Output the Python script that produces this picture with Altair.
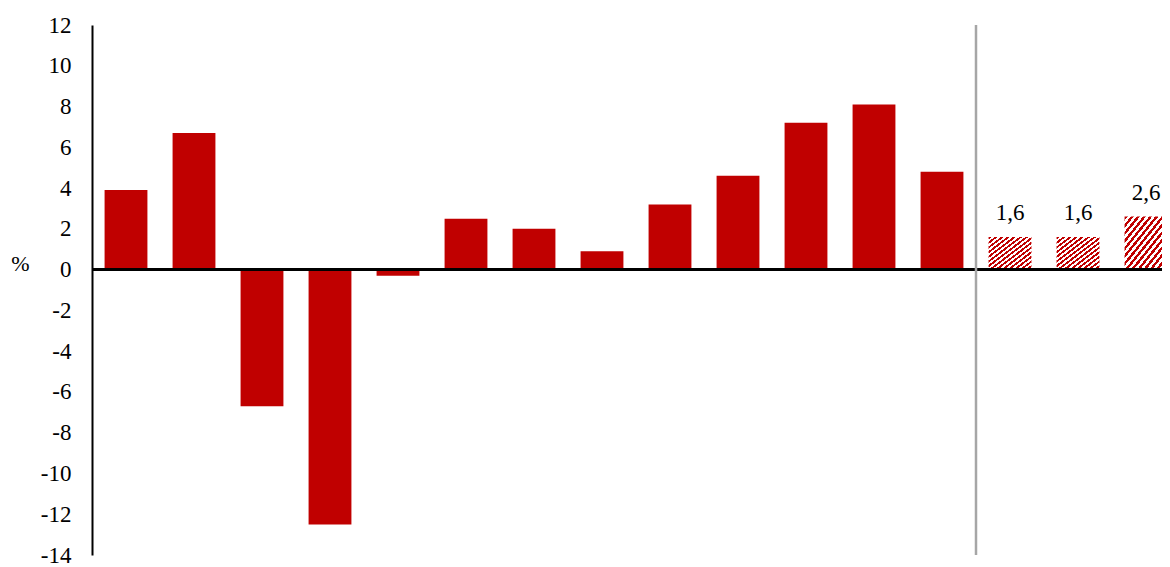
import altair as alt
import pandas as pd

# ---- data ----
periods = [f"P{i}" for i in range(1, 17)]
values = [3.9, 6.7, -6.7, -12.5, -0.3, 2.5, 2.0, 0.9, 3.2, 4.6, 7.2, 8.1, 4.8, 1.6, 1.6, 2.6]
is_forecast = [False] * 13 + [True] * 3
value_labels = [""] * 13 + ["1,6", "1,6", "2,6"]
separator_pos = [13]          # boundary after the 13th period (actual vs forecast)
y_ticks = list(range(-14, 13, 2))

df = pd.DataFrame({"period": periods, "idx": list(range(len(periods))), "value": values,
                   "forecast": is_forecast, "label": value_labels})
sep = pd.DataFrame({"pos": separator_pos})

RED = "#C00000"
FONT = "'Liberation Serif', 'Times New Roman', serif"
PW = 1070          # visible plot width (right part of the last period is cropped)
PH = 530
STEP = 68.0        # px per period
BAR = 0.63         # bar width as share of the period

x_scale = alt.Scale(domain=[0, PW / STEP], nice=False, zero=False)
y_scale = alt.Scale(domain=[-14, 12], nice=False, zero=False)

base = alt.Chart(df).transform_calculate(
    x_lo=f"datum.idx + {(1 - BAR) / 2}",
    x_hi=f"datum.idx + {(1 + BAR) / 2}",
    x_mid="datum.idx + 0.5",
)

Y = alt.Y("value:Q", scale=y_scale,
          axis=alt.Axis(values=y_ticks, grid=False, ticks=False, domainColor="black",
                        domainWidth=2, labelFont=FONT, labelFontSize=23, labelColor="black",
                        labelPadding=21, labelFlush=False, labelOverlap=False,
                        labelExpr="datum.value < 0 ? '-' + abs(datum.value) : '' + datum.value",
                        title="%", titleAngle=0, titleFont=FONT, titleFontSize=22,
                        titleFontWeight="normal", titleColor="black", titleX=-72,
                        titleY=238, titleAlign="center", titleBaseline="middle"))
XLO = alt.X("x_lo:Q", scale=x_scale, axis=None)

# hatched fill via hard-stop gradient
stops = []
n = 14
for i in range(n):
    a, b, c = i / n, (i + 0.5) / n, (i + 1) / n
    stops += [alt.GradientStop(offset=a, color=RED), alt.GradientStop(offset=b, color=RED),
              alt.GradientStop(offset=b, color="white"), alt.GradientStop(offset=c, color="white")]
hatch = alt.LinearGradient(gradient="linear", stops=stops, x1=0, y1=0, x2=1, y2=1)

bars = base.transform_filter("!datum.forecast").mark_bar(color=RED).encode(
    x=XLO, x2="x_hi:Q", y=Y, y2=alt.datum(0))
bars_f = base.transform_filter("datum.forecast").mark_bar(color=hatch).encode(
    x=XLO, x2="x_hi:Q", y=Y, y2=alt.datum(0))
labels = base.transform_filter("datum.forecast").mark_text(
    font=FONT, fontSize=23, color="black", baseline="bottom", dy=-12).encode(
    x=alt.X("x_mid:Q", scale=x_scale, axis=None), y=Y, text="label:N")

zero = alt.Chart(df).mark_rule(color="black", strokeWidth=2.5).encode(
    y=alt.datum(0, scale=y_scale), x=alt.value(0), x2=alt.value(PW))

sep_rule = alt.Chart(sep).mark_rule(color="#A6A6A6", strokeWidth=2.5).encode(
    x=alt.X("pos:Q", scale=x_scale, axis=None),
    y=alt.value(0), y2=alt.value(PH))

chart = alt.layer(bars, bars_f, labels, zero, sep_rule).properties(
    width=PW, height=PH,
    autosize=alt.AutoSizeParams(type="none"),
    padding={"left": 84, "top": 17, "right": 0, "bottom": 12},
).configure_view(stroke=None)

chart.save("out.html", embed_options={"renderer": "svg", "actions": False})
